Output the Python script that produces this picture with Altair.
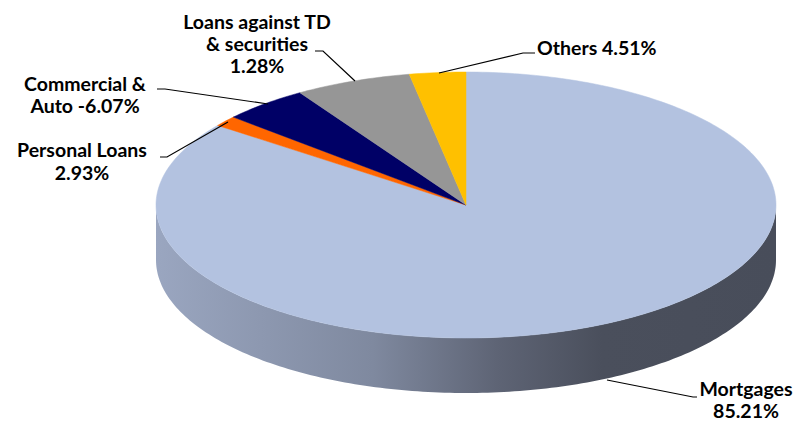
import numpy as np
import pandas as pd
import altair as alt

# ---- data ----
categories = ["Mortgages", "Personal Loans", "Commercial & Auto",
              "Loans against TD & securities", "Others"]
# slice sizes as drawn (clockwise from 12 o'clock)
shares = [85.21, 1.28, 4.51, 6.07, 2.93]
# label texts exactly as printed on the chart
label_texts = ["Mortgages\n85.21%", "Personal Loans\n2.93%", "Commercial &\nAuto -6.07%",
               "Loans against TD\n& securities\n1.28%", "Others 4.51%"]
colors = ["#b3c2e0", "#ff6600", "#000066", "#969696", "#ffc000"]

# ---- layout (pixels) ----
W, H = 798, 422
CX, CY, RX, RY, DEPTH = 466, 205, 310, 133, 55

# top-face wedges
rows = []
cum = 0.0
for cat, s in zip(categories, shares):
    start = 90 - cum * 3.6
    end = start - s * 3.6
    cum += s
    n = max(3, int(abs(end - start)) + 2)
    rows.append({"cat": cat, "i": 0, "x": CX, "y": CY})
    for k, t in enumerate(np.linspace(start, end, n)):
        r = np.radians(t)
        rows.append({"cat": cat, "i": k + 1, "x": CX + RX * np.cos(r), "y": CY - RY * np.sin(r)})
wedges = pd.DataFrame(rows)

# visible side wall (front half)
ts = np.radians(np.linspace(180, 360, 181))
wall = pd.DataFrame({"x": CX + RX * np.cos(ts), "y": CY - RY * np.sin(ts)})
wall["y2"] = wall["y"] + DEPTH

# label placement: (x, first-line baseline, line height, align)
label_pos = [(746, 396, 22, "center"), (82, 157, 22.5, "center"), (85, 91, 22, "center"),
             (257, 29, 22, "center"), (537, 55, 22, "left")]
labels = pd.DataFrame({
    "text": label_texts,
    "x": [p[0] for p in label_pos],
    "y": [p[1] for p in label_pos],
})

leaders_pts = {
    "Mortgages": [(697, 397), (693, 397), (607, 380)],
    "Personal Loans": [(160, 157), (167, 157), (228, 122)],
    "Commercial & Auto": [(157, 89), (165, 89), (268, 104)],
    "Loans against TD & securities": [(315, 51), (323, 51), (355, 81)],
    "Others": [(535, 53), (523, 53), (439, 73)],
}
lrows = []
for cat, pts in leaders_pts.items():
    for k, (x, y) in enumerate(pts):
        lrows.append({"cat": cat, "i": k, "x": x, "y": y})
leaders = pd.DataFrame(lrows)

xs = alt.Scale(domain=[0, W])
ys = alt.Scale(domain=[0, H], reverse=True)
X = lambda f="x": alt.X(f"{f}:Q", scale=xs, axis=None)
Y = lambda f="y": alt.Y(f"{f}:Q", scale=ys, axis=None)

side = alt.Chart(wall).mark_area(
    fill=alt.Gradient(
        gradient="linear", x1=0, x2=1, y1=0, y2=0,
        stops=[alt.GradientStop(color="#9aa6c0", offset=0),
               alt.GradientStop(color="#7f899f", offset=0.35),
               alt.GradientStop(color="#5e6475", offset=0.55),
               alt.GradientStop(color="#4a4f5c", offset=0.72),
               alt.GradientStop(color="#484d5a", offset=1)]),
).encode(x=X(), y=Y(), y2=alt.Y2("y2:Q"))

top = alt.Chart(wedges).mark_line(interpolate="linear-closed", strokeWidth=0.5).encode(
    x=X(), y=Y(),
    fill=alt.Fill("cat:N", scale=alt.Scale(domain=categories, range=colors), legend=None),
    stroke=alt.Stroke("cat:N", scale=alt.Scale(domain=categories, range=colors), legend=None),
    order=alt.Order("i:Q"),
    detail="cat:N",
)

lead = alt.Chart(leaders).mark_line(color="black", strokeWidth=1.2).encode(
    x=X(), y=Y(), order=alt.Order("i:Q"), detail="cat:N")

def text_layer(idx, lh, align):
    return alt.Chart(labels.iloc[[idx]]).mark_text(
        font="Lato", fontWeight="bold", fontSize=19.5, color="black",
        align=align, baseline="alphabetic", lineBreak="\n", lineHeight=lh,
    ).encode(x=X(), y=Y(), text="text:N")

texts = [text_layer(i, p[2], p[3]) for i, p in enumerate(label_pos)]

chart = alt.layer(side, top, lead, *texts).properties(
    width=W, height=H, padding=0, autosize=alt.AutoSizeParams(type="none"),
).configure_view(stroke=None)

chart.save("out.html", embed_options={"renderer": "svg", "actions": False})
